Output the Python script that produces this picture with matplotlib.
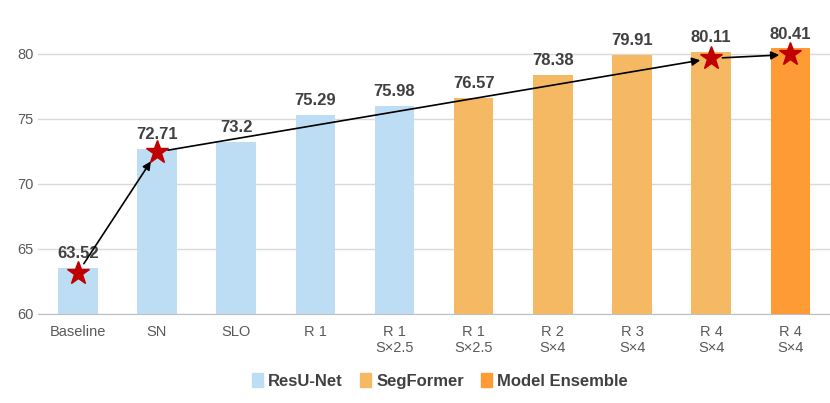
import matplotlib.pyplot as plt
from matplotlib.patches import Patch

categories = ["Baseline", "SN", "SLO", "R 1", "R 1\nS×2.5", "R 1\nS×2.5",
              "R 2\nS×4", "R 3\nS×4", "R 4\nS×4", "R 4\nS×4"]
values = [63.52, 72.71, 73.2, 75.29, 75.98, 76.57, 78.38, 79.91, 80.11, 80.41]
groups = ["ResU-Net"] * 5 + ["SegFormer"] * 4 + ["Model Ensemble"]
star_idx = [0, 1, 8, 9]
star_y = [63.15, 72.45, 79.65, 79.95]

colors = {"ResU-Net": "#BDDDF4", "SegFormer": "#F5B963", "Model Ensemble": "#FF9B35"}

plt.rcParams['font.family'] = ['Liberation Sans', 'DejaVu Sans']
fig = plt.figure(figsize=(8.3, 4.03), dpi=100)
ax = fig.add_axes([0.046, 0.221, 0.954, 0.71])

x = list(range(len(values)))
ax.bar(x, values, width=0.5, color=[colors[g] for g in groups], zorder=2)
for xi, v in zip(x, values):
    ax.annotate(f"{v:g}", (xi, v), xytext=(0, 5), textcoords="offset points",
                ha="center", va="bottom", fontsize=12, fontweight="bold", color="#404040")

ax.plot(star_idx, star_y, linestyle="none", marker="*", markersize=17,
        color="#C00000", zorder=4)
for i in range(len(star_idx) - 1):
    ax.annotate("", xy=(star_idx[i + 1], star_y[i + 1]), xytext=(star_idx[i], star_y[i]),
                arrowprops=dict(arrowstyle="-|>", color="black", lw=1.2,
                                shrinkA=8, shrinkB=8, mutation_scale=12), zorder=3)

ax.set_xlim(-0.5, 9.5)
ax.set_ylim(60, 82)
ax.set_yticks([60, 65, 70, 75, 80])
ax.set_xticks(x)
ax.set_xticklabels(categories)
ax.tick_params(axis="both", length=0, labelsize=10.5, labelcolor="#595959")
ax.tick_params(axis="x", pad=8)
ax.grid(axis="y", color="#D9D9D9", lw=1, zorder=0)
for s in ["top", "right", "left"]:
    ax.spines[s].set_visible(False)
ax.spines["bottom"].set_color("#BFBFBF")

handles = [Patch(color=colors[g], label=g) for g in colors]
fig.legend(handles=handles, loc="center", bbox_to_anchor=(0.53, 0.055), ncol=3,
           frameon=False, handlelength=0.7, handleheight=0.9, handletextpad=0.3,
           columnspacing=1.0, prop=dict(weight="bold", size=12), labelcolor="#404040")

fig.savefig("out.png", dpi=100)
